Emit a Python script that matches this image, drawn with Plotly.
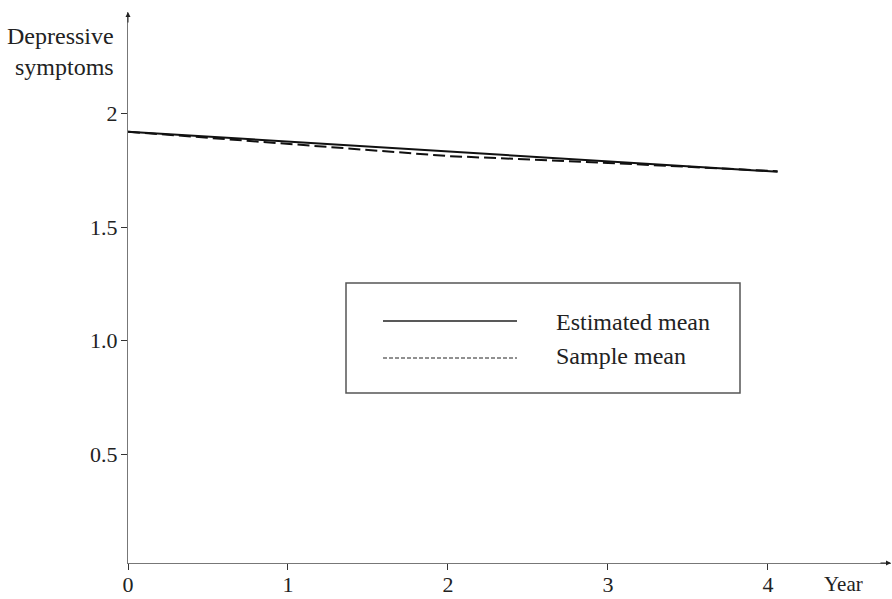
import plotly.graph_objects as go

# ---- data ----
years = [0, 1, 2, 3, 4.06]
estimated_mean = [1.919, 1.876, 1.832, 1.789, 1.743]
sample_mean = [1.919, 1.866, 1.812, 1.782, 1.745]

x_tickvals = [0, 1, 2, 3, 4]
x_ticktext = ["0", "1", "2", "3", "4"]
y_tickvals = [0.5, 1.0, 1.5, 2.0]
y_ticktext = ["0.5", "1.0", "1.5", "2"]

legend_labels = ["Estimated mean", "Sample mean"]

# ---- layout geometry (pixels) ----
W, H = 892, 599
L, R, T, B = 128, 891, 12, 563
X_RANGE = [0, 4.769]
Y_RANGE = [0.0224, 2.4455]
FONT = "Liberation Serif"
AX_COL = "#777777"
TICK_COL = "#333333"


def px_x(p):
    return (p - L) / (R - L)


def px_y(p):
    return (B - p) / (B - T)


fig = go.Figure()
fig.add_trace(go.Scatter(x=years, y=estimated_mean, mode="lines",
                         line=dict(color="#111111", width=2),
                         name=legend_labels[0], showlegend=False))
fig.add_trace(go.Scatter(x=years, y=sample_mean, mode="lines",
                         line=dict(color="#111111", width=2, dash="12px,5px"),
                         name=legend_labels[1], showlegend=False))

axis_common = dict(showgrid=False, zeroline=False, ticklen=6, tickwidth=1,
                   tickcolor=TICK_COL, automargin=False,
                   tickfont=dict(family=FONT, size=22, color="#222222"))

fig.update_layout(
    width=W, height=H,
    margin=dict(l=L, r=W - R, t=T, b=H - B, autoexpand=False),
    paper_bgcolor="white", plot_bgcolor="white",
    showlegend=False,
    xaxis=dict(range=X_RANGE, tickvals=x_tickvals, ticktext=x_ticktext,
               ticks="outside", showline=True, linecolor=AX_COL, linewidth=1,
               ticklabelstandoff=-4, **axis_common),
    yaxis=dict(range=Y_RANGE, tickvals=y_tickvals, ticktext=y_ticktext,
               ticks="outside", showline=True, linecolor=AX_COL, linewidth=1,
               ticklabelstandoff=-1, **axis_common),
    xaxis2=dict(range=X_RANGE, tickvals=x_tickvals, overlaying="x", anchor="y",
                side="bottom", ticks="inside", showticklabels=False,
                showline=False, **axis_common),
    yaxis2=dict(range=Y_RANGE, tickvals=y_tickvals, overlaying="y", anchor="x",
                side="left", ticks="inside", showticklabels=False,
                showline=False, **axis_common),
)

annotations = [
    # axis arrows
    dict(x=0, y=Y_RANGE[1], xref="x", yref="y", ax=0, ay=12,
         showarrow=True, arrowhead=2, arrowsize=1, arrowwidth=1,
         arrowcolor="#222222", text="", standoff=0),
    dict(x=X_RANGE[1], y=Y_RANGE[0], xref="x", yref="y", ax=-12, ay=0,
         showarrow=True, arrowhead=2, arrowsize=1, arrowwidth=1,
         arrowcolor="#222222", text="", standoff=0),
    # axis titles
    dict(x=px_x(116), y=px_y(51), xref="paper", yref="paper",
         xanchor="right", yanchor="middle", align="right", showarrow=False,
         text="Depressive<br>symptoms",
         font=dict(family=FONT, size=24, color="#222222")),
    dict(x=px_x(865), y=px_y(584), xref="paper", yref="paper",
         xanchor="right", yanchor="middle", showarrow=False, text="Year",
         font=dict(family=FONT, size=21, color="#222222")),
    # legend text
    dict(x=px_x(554), y=px_y(322), xref="paper", yref="paper",
         xanchor="left", yanchor="middle", showarrow=False,
         text=legend_labels[0], font=dict(family=FONT, size=24, color="#222222")),
    dict(x=px_x(554), y=px_y(356), xref="paper", yref="paper",
         xanchor="left", yanchor="middle", showarrow=False,
         text=legend_labels[1], font=dict(family=FONT, size=24, color="#222222")),
]
fig.update_layout(annotations=annotations)

shapes = [
    dict(type="rect", xref="paper", yref="paper",
         x0=px_x(346), x1=px_x(740), y0=px_y(393), y1=px_y(283),
         line=dict(color="#555555", width=1.5), fillcolor="white", layer="above"),
    dict(type="line", xref="paper", yref="paper",
         x0=px_x(383), x1=px_x(517), y0=px_y(321), y1=px_y(321),
         line=dict(color="#222222", width=1.5)),
    dict(type="line", xref="paper", yref="paper",
         x0=px_x(383), x1=px_x(517), y0=px_y(358), y1=px_y(358),
         line=dict(color="#222222", width=1, dash="4px,2px")),
]
fig.update_layout(shapes=shapes)

fig.write_html(
    "out.html",
    config={"displayModeBar": False},
    post_script="document.body.style.margin='0';"
                "document.body.style.padding='0';"
                "document.body.style.overflow='hidden';",
)
